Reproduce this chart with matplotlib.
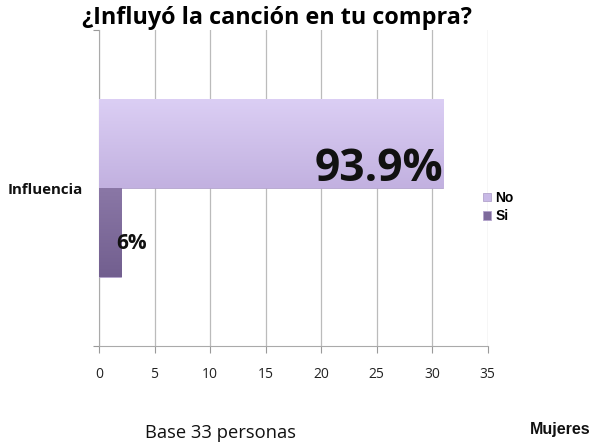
import matplotlib
matplotlib.use("Agg")
import numpy as np
import matplotlib.pyplot as plt
from matplotlib.colors import LinearSegmentedColormap

# survey answers (count of people out of 33)
categories = ["Influencia"]
series = ["No", "Si"]
counts = [31, 2]
labels = ["93.9%", "6%"]
colors = ["#c8b9e6", "#7d6a9b"]
shades = [("#dbcef4", "#c2b1e0"), ("#8a77a6", "#725f8f")]
xticks = [0, 5, 10, 15, 20, 25, 30, 35]

plt.rcParams["font.family"] = ["Open Sans", "DejaVu Sans"]

fig = plt.figure(figsize=(6, 4.46), dpi=100)
ax = fig.add_axes([0.165, 0.224, 0.648, 0.709])

h = 0.28
offsets = [h / 2, -h / 2]
grad = np.linspace(0, 1, 64).reshape(-1, 1)
for name, c, col, sh, off in zip(series, counts, colors, shades, offsets):
    bar = ax.barh(off, c, height=h, color=col, edgecolor="#b3a3cc",
                  linewidth=0.6, label=name, zorder=3)[0]
    # vertical shading inside the bar
    cmap = LinearSegmentedColormap.from_list(name, [sh[1], sh[0]])
    im = ax.imshow(grad, cmap=cmap, aspect="auto", origin="lower",
                   extent=(0, c, off - h / 2, off + h / 2), zorder=3.5)
    im.set_clip_path(bar)

ax.text(counts[0], offsets[0] - 0.08, labels[0], ha="right", va="center",
        fontsize=32, fontweight="bold", color="#111111", zorder=4)
ax.text(1.55, offsets[1] - 0.037, labels[1], ha="left", va="center",
        fontsize=15, fontweight="bold", color="#111111", zorder=4)

ax.set_xlim(0, 35)
ax.set_ylim(-0.5, 0.5)
ax.set_xticks(xticks)
ax.set_yticks([-0.5, 0.5])
ax.set_yticklabels([])
ax.tick_params(axis="x", length=5, color="#999999", labelsize=10,
               labelcolor="#222222", pad=10)
ax.tick_params(axis="y", length=4, color="#999999")
ax.grid(axis="x", color="#bbbbbb", linewidth=0.9, zorder=0)
for s in ["top", "right"]:
    ax.spines[s].set_visible(False)
for s in ["left", "bottom"]:
    ax.spines[s].set_color("#aaaaaa")

fig.text(0.013, 0.574, categories[0], fontsize=10.8, fontweight="bold",
         va="center", ha="left", color="#111111")
ax.set_title("¿Influyó la canción en tu compra?", fontsize=16.8,
             fontweight="bold", loc="left", x=-0.043, pad=3)

ax.legend(loc="center left", bbox_to_anchor=(0.955, 0.44), frameon=False,
          handlelength=0.6, handleheight=0.6, handletextpad=0.3,
          labelspacing=0.3,
          prop={"family": "Liberation Sans", "weight": "bold", "size": 10})

fig.text(0.242, 0.029, "Base 33 personas", fontsize=13.2, ha="left",
         va="center", color="#111111")
fig.text(0.883, 0.036, "Mujeres", fontsize=11.5, ha="left", va="center",
         fontweight="bold", family="Liberation Sans", color="#111111")

fig.savefig("out.png", dpi=100)
